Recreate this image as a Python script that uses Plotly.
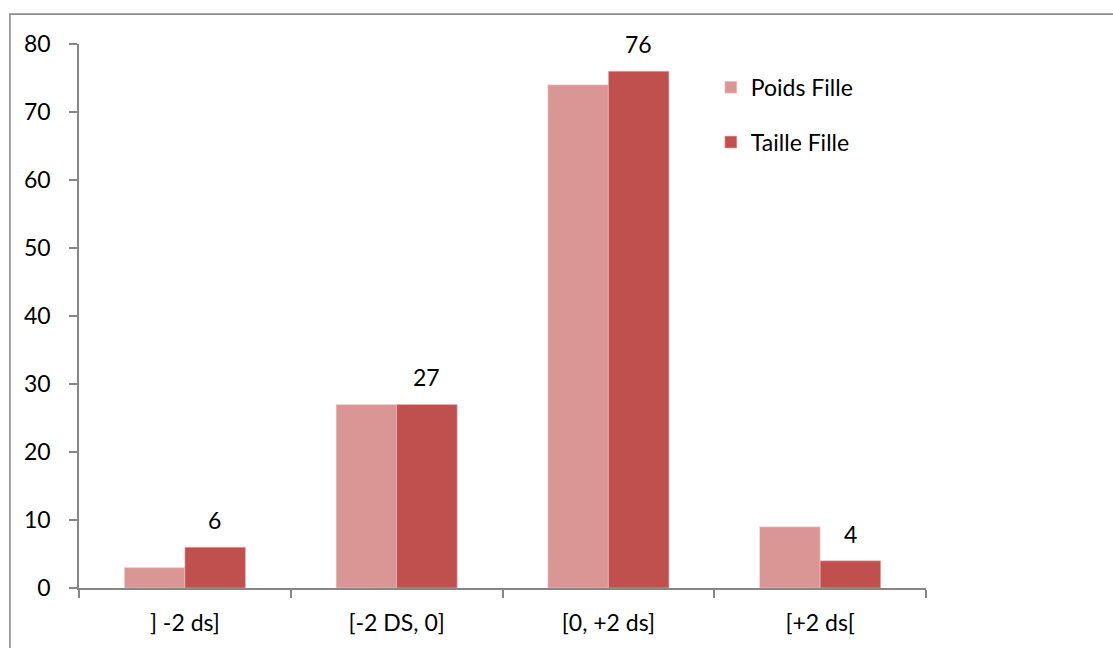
import plotly.graph_objects as go

# Répartition des filles selon les écarts-types (poids et taille)
categories = ["] -2 ds]", "[-2 DS, 0]", "[0, +2 ds]", "[+2 ds["]
poids_fille = [3, 27, 74, 9]
taille_fille = [6, 27, 76, 4]
y_ticks = [0, 10, 20, 30, 40, 50, 60, 70, 80]

FONT = "Lato"
FSIZE = 23
AXIS_GREY = "#868686"

fig = go.Figure()
fig.add_trace(go.Bar(
    x=categories, y=poids_fille, name="Poids Fille",
    marker=dict(color="#D99694", line=dict(color="#F2DCDB", width=0.6)),
    legendgroup="a",
))
fig.add_trace(go.Bar(
    x=categories, y=taille_fille, name="Taille Fille",
    marker=dict(color="#C0504D", line=dict(color="#E6B9B8", width=0.6)),
    legendgroup="b",
))

# Étiquettes de valeur au-dessus des barres "Taille Fille"
for cat, val in zip(categories, taille_fille):
    fig.add_annotation(
        x=cat, y=val, text=str(val), showarrow=False,
        xshift=30, yshift=27, yanchor="middle",
        font=dict(family=FONT, size=FSIZE, color="#000000"),
    )

# Cadre du graphique
fig.add_shape(
    type="rect", xref="paper", yref="paper",
    x0=-0.0815, x1=1.25, y0=-0.15, y1=1.055,
    line=dict(color="#8C8C8C", width=1.6), fillcolor="rgba(0,0,0,0)",
    layer="below",
)

fig.update_layout(
    width=1113, height=648,
    margin=dict(l=79, r=187, t=44, b=56),
    paper_bgcolor="white", plot_bgcolor="white",
    barmode="group", bargap=0.428, bargroupgap=0,
    font=dict(family=FONT, size=FSIZE, color="#000000"),
    showlegend=True,
    legend=dict(
        x=0.746, y=0.87, xanchor="left", yanchor="middle",
        bgcolor="rgba(0,0,0,0)", borderwidth=0,
        tracegroupgap=22, font=dict(family=FONT, size=FSIZE),
        itemclick=False,
    ),
)
fig.update_xaxes(
    type="category", showline=True, linecolor=AXIS_GREY, linewidth=1.6,
    ticks="outside", ticklen=8, tickcolor=AXIS_GREY, tickwidth=1.6,
    tickson="boundaries", showgrid=False, ticklabelstandoff=14,
    tickfont=dict(family=FONT, size=FSIZE),
)
fig.update_yaxes(
    range=[0, 80], tickvals=y_ticks, showline=True, linecolor=AXIS_GREY,
    linewidth=1.6, ticks="outside", ticklen=8, tickcolor=AXIS_GREY,
    tickwidth=1.6, showgrid=False, zeroline=False, ticklabelstandoff=14,
    tickfont=dict(family=FONT, size=FSIZE),
)

fig.write_html("out.html")
